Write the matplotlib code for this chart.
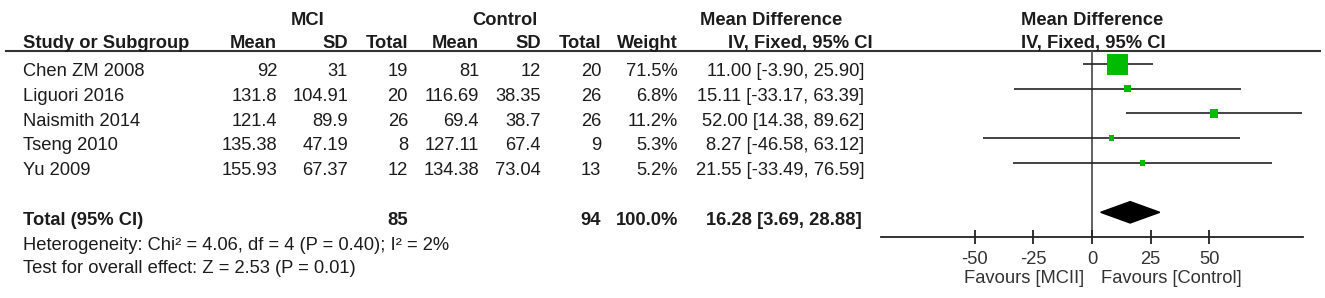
import numpy as np
import matplotlib
matplotlib.use("Agg")
import matplotlib.pyplot as plt
from matplotlib.patches import Polygon

plt.rcParams['font.family'] = ['Liberation Sans', 'DejaVu Sans']

# Study data
studies = ['Chen ZM 2008', 'Liguori 2016', 'Naismith 2014', 'Tseng 2010', 'Yu 2009']
mci_mean = [92, 131.8, 121.4, 135.38, 155.93]
mci_sd = [31, 104.91, 89.9, 47.19, 67.37]
mci_n = [19, 20, 26, 8, 12]
ctl_mean = [81, 116.69, 69.4, 127.11, 134.38]
ctl_sd = [12, 38.35, 38.7, 67.4, 73.04]
ctl_n = [20, 26, 26, 9, 13]
weight = [71.5, 6.8, 11.2, 5.3, 5.2]
md = [11.00, 15.11, 52.00, 8.27, 21.55]
ci_lo = [-3.90, -33.17, 14.38, -46.58, -33.49]
ci_hi = [25.90, 63.39, 89.62, 63.12, 76.59]

# Pooled result
total_mci_n = 85
total_ctl_n = 94
total_weight = 100.0
total_md = 16.28
total_lo = 3.69
total_hi = 28.88
heterogeneity = "Heterogeneity: Chi\u00b2 = 4.06, df = 4 (P = 0.40); I\u00b2 = 2%"
overall = "Test for overall effect: Z = 2.53 (P = 0.01)"

xticks = [-50, -25, 0, 25, 50]

# Layout (pixel units)
W, H = 1325, 298
FS = 13.2
TXT = '#1c1c1c'
GREEN = '#00bb00'
row_y = [64 + 24.7 * i for i in range(len(studies))]
base_off = 12.3
total_y = 212.3
axis_y = 236.7
head_y = 51

fig = plt.figure(figsize=(W / 100, H / 100), dpi=100)
ax = fig.add_axes([0, 0, 1, 1])
ax.set_xlim(0, W)
ax.set_ylim(H, 0)
ax.axis('off')

def put(x, y, s, ha='right', bold=False, color=TXT):
    ax.text(x, y, s, ha=ha, va='baseline', fontsize=FS, color=color,
            fontweight='bold' if bold else 'normal')

# headers
put(308, 25, 'MCI', ha='center', bold=True)
put(505, 25, 'Control', ha='center', bold=True)
put(771, 25, 'Mean Difference', ha='center', bold=True)
put(1092, 25, 'Mean Difference', ha='center', bold=True)
put(23, 48, 'Study or Subgroup', ha='left', bold=True)
cols = [277, 348, 408, 479, 541, 601, 678]
for x, s in zip(cols, ['Mean', 'SD', 'Total', 'Mean', 'SD', 'Total', 'Weight']):
    put(x, 48, s, bold=True)
put(873, 48, 'IV, Fixed, 95% CI', bold=True)
put(1093, 48, 'IV, Fixed, 95% CI', ha='center', bold=True)
ax.plot([6, 1320], [head_y, head_y], color='#333333', lw=1.5)

for i, name in enumerate(studies):
    yb = row_y[i] + base_off
    put(23, yb, name, ha='left')
    vals = [f"{mci_mean[i]:g}", f"{mci_sd[i]:g}", str(mci_n[i]),
            f"{ctl_mean[i]:g}", f"{ctl_sd[i]:g}", str(ctl_n[i]),
            f"{weight[i]:.1f}%"]
    for x, s in zip(cols, vals):
        put(x, yb, s)
    put(864, yb, f"{md[i]:.2f} [{ci_lo[i]:.2f}, {ci_hi[i]:.2f}]")

yb = total_y + base_off
put(23, yb, 'Total (95% CI)', ha='left', bold=True)
put(cols[2], yb, str(total_mci_n), bold=True)
put(cols[5], yb, str(total_ctl_n), bold=True)
put(cols[6], yb, f"{total_weight:.1f}%", bold=True)
put(862, yb, f"{total_md:.2f} [{total_lo:.2f}, {total_hi:.2f}]", bold=True)
put(23, 250, heterogeneity, ha='left')
put(23, 273, overall, ha='left')

# Forest plot axes
x0, x1 = 881, 1303
axf = fig.add_axes([x0 / W, (H - axis_y) / H, (x1 - x0) / W, (axis_y - head_y) / H])
axf.set_facecolor('none')
axf.set_xlim(-90, 90)
axf.set_ylim(axis_y, head_y)
for s in ['top', 'left', 'right']:
    axf.spines[s].set_visible(False)
axf.spines['bottom'].set_color('#222222')
axf.spines['bottom'].set_linewidth(1.3)
axf.set_yticks([])
axf.set_xticks(xticks)
axf.set_xticklabels([str(t) for t in xticks])
axf.tick_params(axis='x', direction='inout', length=10, width=1.3, color='#222222',
                labelsize=FS, labelcolor='#333333', pad=5)
axf.axvline(0, color='#555555', lw=1.3, zorder=1)

axf.hlines(row_y, ci_lo, ci_hi, color='#222222', lw=1.2, zorder=2)
side_px = 21 * np.sqrt(np.array(weight) / max(weight))
axf.scatter(md, row_y, s=(side_px * 0.72) ** 2, marker='s', color=GREEN,
            linewidths=0, zorder=3)
dh = 10.7
axf.add_patch(Polygon([[total_lo, total_y], [total_md, total_y - dh],
                       [total_hi, total_y], [total_md, total_y + dh]],
                      closed=True, color='black', zorder=3))

axf.text(-3.4, 283, 'Favours [MCII]', ha='right', va='baseline', fontsize=FS,
         color='#333333', clip_on=False)
axf.text(3.8, 283, 'Favours [Control]', ha='left', va='baseline', fontsize=FS,
         color='#333333', clip_on=False)

fig.savefig('out.png', dpi=100)
